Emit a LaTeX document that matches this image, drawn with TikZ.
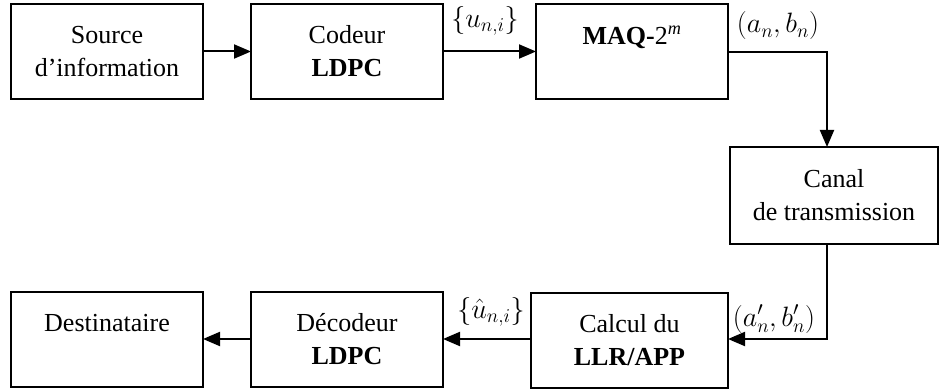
\documentclass[tikz,border=0pt]{standalone}
\usepackage{fix-cm}
\usepackage{fontspec}
\setmainfont{Liberation Serif}
\usetikzlibrary{arrows.meta}
\tikzset{
  blk/.style={draw, line width=2pt, inner sep=0pt, outer sep=0pt, align=center,
    minimum width=192pt, minimum height=95pt,
    font=\fontsize{26}{33}\selectfont},
  lbl/.style={inner sep=0pt, font=\fontsize{28}{33}\selectfont},
  arr/.style={line width=2pt, -{Triangle[length=17pt,width=14pt]}},
  ln/.style={line width=2pt}
}
\begin{document}
\begin{tikzpicture}[x=1pt,y=-1pt]
\useasboundingbox (0,0) rectangle (940,390);
\node[blk] (src) at (107,51.5) {Source\\d’information};
\node[blk] (cod) at (347,51.5) {Codeur\\\textbf{LDPC}};
\node[blk] (maq) at (632,51.5) {\textbf{MAQ-}2\textsuperscript{\itshape m}\\\mbox{}};
\node[blk, minimum width=208pt, minimum height=97pt] (can) at (834,195.5) {Canal\\de transmission};
\node[blk, minimum width=197pt] (calc) at (629.5,340.5) {Calcul du\\\textbf{LLR/APP}};
\node[blk] (dec) at (347,339.5) {Décodeur\\\textbf{LDPC}};
\node[blk] (dst) at (107,339.5) {Destinataire\\\mbox{}};
\coordinate (k1) at (827,52);
\coordinate (k2) at (827,339);
\draw[arr] (src.east) -- (cod.west);
\draw[arr] (cod.east) -- (maq.west);
\draw[arr] (maq.east |- k1) -- (k1) -- (k1 |- can.north);
\draw[arr] (k2 |- can.south) -- (k2) -- (calc.east |- k2);
\draw[arr] (calc.west |- k2) -- (dec.east |- k2);
\draw[arr] (dec.west |- k2) -- (dst.east |- k2);
\node[lbl] (l1) at (485,21) {$\{u_{n,i}\}$};
\node[lbl] (l2) at (778,26) {$(a_n,b_n)$};
\node[lbl] (l3) at (491,312) {$\{\hat{u}_{n,i}\}$};
\node[lbl] (l4) at (774,319) {$(a'_n,b'_n)$};
\end{tikzpicture}
\end{document}
